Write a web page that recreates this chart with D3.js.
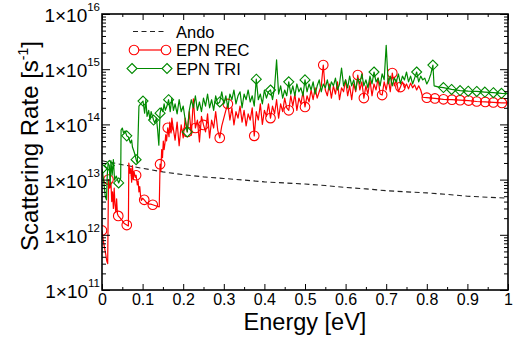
<!DOCTYPE html>
<html><head><meta charset="utf-8">
<script src="https://cdn.jsdelivr.net/npm/d3@7"></script>
<style>
body{margin:0;background:#fff}
svg{display:block}
text{font-family:"Liberation Sans",Arial,Helvetica,sans-serif;fill:#000}
</style>
</head><body>
<svg id="c" width="513" height="341"></svg>
<script>
// ---------------- data ----------------
const xTickValues = [0,0.1,0.2,0.3,0.4,0.5,0.6,0.7,0.8,0.9,1];
const xTickLabels = ["0","0.1","0.2","0.3","0.4","0.5","0.6","0.7","0.8","0.9","1"];
const yTickExps = [11,12,13,14,15,16];

const seriesNames = ["Ando","EPN REC","EPN TRI"];

const andoE = [0,0.05,0.1,0.15,0.2,0.25,0.3,0.35,0.4,0.45,0.5,0.55,0.6,0.65,0.7,0.75,0.8,0.85,0.9,0.95,1.0];
const andoRate = [2.2e13,1.86e13,1.6e13,1.38e13,1.23e13,1.12e13,1.05e13,9.8e12,9.1e12,8.7e12,8.3e12,7.8e12,7.2e12,6.8e12,6.3e12,6.0e12,5.75e12,5.4e12,5.0e12,4.8e12,4.6e12];

const recE = [0,0.003,0.006,0.009,0.012,0.014,0.016,0.019,0.022,0.024,0.026,0.028,0.03,0.032,0.034,0.036,0.038,0.04,0.045,0.05,0.055,0.061,0.065,0.066,0.069,0.071,0.073,0.075,0.077,0.079,0.082,0.084,0.087,0.089,0.091,0.093,0.095,0.097,0.1,0.104,0.11,0.115,0.12,0.125,0.13,0.135,0.141,0.143,0.145,0.147,0.149,0.151,0.153,0.155,0.157,0.159,0.162,0.165,0.167,0.17,0.172,0.175,
0.18,0.185,0.19,0.195,0.2,0.205,0.21,0.215,0.22,0.225,
0.23,0.235,0.24,0.245,0.25,0.255,0.26,0.265,0.27,0.275,
0.28,0.285,0.29,0.295,0.3,0.305,0.31,0.315,0.32,0.325,
0.33,0.335,0.34,0.345,0.35,0.355,0.36,0.365,0.37,0.375,
0.38,0.385,0.39,0.395,0.4,0.405,0.41,0.415,0.42,0.425,
0.43,0.435,0.44,0.445,0.45,0.455,0.46,0.465,0.47,0.475,
0.48,0.485,0.49,0.495,0.5,0.505,0.51,0.515,0.52,0.525,
0.53,0.535,0.54,0.545,0.55,0.555,0.56,0.565,0.57,0.575,
0.58,0.585,0.59,0.595,0.6,0.605,0.61,0.615,0.62,0.625,
0.63,0.635,0.64,0.645,0.65,0.655,0.66,0.665,0.67,0.675,
0.68,0.685,0.69,0.695,0.7,0.705,0.71,0.715,0.72,0.725,
0.73,0.735,0.74,0.745,0.75,0.755,0.76,0.765,0.77,0.775,
0.78,0.785,0.79,
0.8,0.82,0.841,0.862,0.882,0.903,0.923,0.944,0.964,0.985,1.0];
const recRate = [1.2e12,8e11,6e11,4.5e11,3.3e11,3.0e11,1.0e13,7e12,9e12,4e12,6e12,3e12,7e12,3.5e12,2.6e12,4.5e12,2.4e12,2.2e12,2.0e12,1.8e12,1.6e12,1.5e12,1.45e12,2.0e13,1.3e13,1.6e13,9e12,1.8e13,1.0e13,1.4e13,1.1e13,1.2e13,8e12,9.5e12,6e12,7.5e12,5e12,4.2e12,4.6e12,4.3e12,3.8e12,3.6e12,3.6e12,3.5e12,3.4e12,3.3e12,3.2e12,1.9e13,1.4e13,3.5e13,2.5e13,5e13,3.5e13,4.5e13,6.5e13,5e13,8.7e13,6e13,1.1e14,7e13,1.3e14,9e13,
5.2e13,1.1e14,4.1e13,9.8e13,5.7e13,1.3e14,7.3e13,1.7e14,6.4e13,2.9e14,
8.6e13,1.2e14,4.8e13,1.4e14,9.8e13,7.3e13,1.55e14,5.7e13,1.2e14,8.6e13,
1.7e14,7.9e13,5.7e13,9.4e13,1.3e14,1.8e14,2.35e14,1.2e14,2.0e14,9.8e13,
1.7e14,1.3e14,2.15e14,1.1e14,1.8e14,9.4e13,1.55e14,1.2e14,2.0e14,6.2e13,
1.7e14,1.2e14,2.35e14,1.0e14,1.8e14,1.4e14,2.35e14,1.3e14,2.15e14,1.55e14,
2.8e14,1.3e14,2.35e14,1.7e14,3.0e14,2.0e14,1.8e14,3.3e14,2.15e14,3.55e14,
1.8e14,3.0e14,2.35e14,3.9e14,2.07e14,3.3e14,2.55e14,4.2e14,2.8e14,4.6e14,
3.0e14,3.9e14,5.0e14,1.19e15,4.2e14,3.3e14,5.4e14,3.0e14,5.0e14,3.55e14,
5.9e14,2.8e14,4.6e14,3.9e14,6.4e14,3.3e14,5.0e14,2.8e14,5.4e14,3.9e14,
7.85e14,4.2e14,5.9e14,3.0e14,5.0e14,3.55e14,6.4e14,3.3e14,5.4e14,4.2e14,
6.9e14,3.55e14,3.4e14,5.9e14,4.2e14,6.9e14,3.9e14,8.5e14,5.0e14,6.4e14,
3.9e14,4.75e14,5.9e14,4.6e14,5.4e14,4.4e14,5.6e14,4.6e14,5.2e14,4.2e14,
5.0e14,4.2e14,3.1e14,
3.05e14,2.95e14,2.85e14,2.8e14,2.75e14,2.7e14,2.6e14,2.55e14,2.5e14,2.45e14,2.45e14];
const recMarkE = [0,0.016,0.04,0.061,0.084,0.104,0.125,0.143,0.162,0.21,0.23,0.25,0.29,0.31,0.375,0.415,0.46,0.5,0.545,0.63,0.645,0.69,0.715,0.735,0.8,0.82,0.841,0.862,0.882,0.903,0.923,0.944,0.964,0.985];

const triE = [0,0.004,0.008,0.011,0.013,0.015,0.018,0.02,0.022,0.025,0.028,0.031,0.035,0.041,0.046,0.047,0.05,0.053,0.057,0.061,0.065,0.07,0.073,0.075,0.079,0.082,0.084,0.087,0.091,0.095,0.101,0.105,0.108,0.111,0.115,0.118,0.121,0.127,0.13,0.134,0.137,0.14,0.143,0.146,0.15,0.153,0.156,0.16,0.164,0.168,0.172,0.176,
0.18,0.185,0.19,0.195,0.2,0.205,0.21,0.215,0.22,0.225,
0.23,0.235,0.24,0.245,0.25,0.255,0.26,0.265,0.27,0.275,
0.28,0.285,0.29,0.295,0.3,0.305,0.31,0.315,0.32,0.325,
0.33,0.335,0.34,0.345,0.35,0.355,0.36,0.365,0.37,0.375,
0.38,0.385,0.39,0.395,0.4,0.405,0.41,0.415,0.42,0.425,
0.43,0.435,0.44,0.445,0.45,0.455,0.46,0.465,0.47,0.475,
0.48,0.485,0.49,0.495,0.5,0.505,0.51,0.515,0.52,0.525,
0.53,0.535,0.54,0.545,0.55,0.555,0.56,0.565,0.57,0.575,
0.58,0.585,0.59,0.595,0.6,0.605,0.61,0.615,0.62,0.625,
0.63,0.635,0.64,0.645,0.65,0.655,0.66,0.665,0.67,0.675,
0.68,0.685,0.69,0.695,0.7,0.705,0.71,0.715,0.72,0.725,
0.73,0.735,0.74,0.745,0.75,0.755,0.76,0.765,0.77,0.775,
0.78,0.785,0.79,0.795,0.8,0.805,0.81,0.815,
0.818,0.83,0.841,0.861,0.882,0.902,0.923,0.943,0.964,0.984,1.0];
const triRate = [1.56e13,9.8e12,5.0e12,4.3e12,1.2e13,2.0e13,1.8e13,8.0e12,2.2e13,1.2e13,2.3e13,9.8e12,1.16e13,8.7e12,1.07e13,7.9e13,8.6e13,7.0e13,7.6e13,6.2e13,5.9e13,4.6e13,5.2e13,3.9e13,3.2e13,2.7e13,2.3e13,2.0e13,2.15e14,2.35e14,2.65e14,1.6e14,2.8e14,1.4e14,1.8e14,1.2e14,1.7e14,1.2e14,1.06e14,1.3e14,7.9e13,4.2e13,1.6e14,2.0e14,1.7e14,2.35e14,1.8e14,2.15e14,2.8e14,1.7e14,3.0e14,1.8e14,
2.35e14,1.55e14,2.8e14,1.7e14,2.15e14,1.2e14,7.3e13,1.8e14,2.8e14,2.0e14,
3.3e14,1.8e14,2.55e14,1.7e14,3.0e14,2.15e14,3.55e14,2.0e14,2.8e14,1.8e14,
3.3e14,2.35e14,2.55e14,3.9e14,2.35e14,3.3e14,2.0e14,3.55e14,2.8e14,4.2e14,
2.35e14,3.3e14,3.9e14,2.0e14,3.55e14,2.8e14,4.2e14,2.55e14,3.3e14,2.15e14,
6.6e14,2.8e14,3.55e14,2.35e14,4.2e14,3.0e14,3.9e14,4.2e14,2.8e14,4.6e14,
1.47e15,3.55e14,5.0e14,3.0e14,4.2e14,3.3e14,5.9e14,3.55e14,5.0e14,3.3e14,
5.4e14,3.9e14,4.6e14,3.3e14,6.4e14,3.9e14,5.4e14,4.2e14,5.9e14,3.55e14,
5.0e14,6.4e14,3.9e14,5.4e14,4.6e14,6.4e14,4.2e14,5.9e14,5.0e14,6.9e14,
4.2e14,5.4e14,1.05e15,5.0e14,6.4e14,4.6e14,7.5e14,5.0e14,6.4e14,4.2e14,
6.9e14,5.4e14,8.2e14,5.0e14,6.4e14,4.6e14,7.5e14,5.4e14,8.9e14,5.9e14,
6.9e14,5.0e14,8.2e14,6.4e14,2.7e15,5.4e14,7.5e14,5.0e14,6.9e14,5.9e14,
8.2e14,5.4e14,7.5e14,6.4e14,8.9e14,5.9e14,7.5e14,5.4e14,6.9e14,8.9e14,
5.9e14,7.5e14,6.4e14,6.9e14,5.4e14,6.4e14,8.2e14,1.19e15,
5.0e14,4.75e14,4.65e14,4.3e14,4.1e14,4.0e14,3.95e14,3.85e14,3.75e14,3.65e14,3.6e14];
const triMarkE = [0,0.018,0.041,0.061,0.084,0.101,0.127,0.143,0.164,0.21,0.29,0.38,0.415,0.46,0.5,0.67,0.775,0.815,0.841,0.861,0.882,0.902,0.923,0.943,0.964,0.984];

// ---------------- chart ----------------
const svg = d3.select("#c");
const L = 102, R = 508, T = 14, B = 290;
const x = d3.scaleLinear().domain([0,1]).range([L,R]);
const y = d3.scaleLog().domain([1e11,1e16]).range([B,T]);

svg.append("defs").append("clipPath").attr("id","clip")
  .append("rect").attr("x",L).attr("y",T).attr("width",R-L).attr("height",B-T);

const line = d3.line().x(d=>x(d[0])).y(d=>y(d[1]));
const plot = svg.append("g").attr("clip-path","url(#clip)");

function nearestIdx(arr, v){
  let bi = 0, bd = Infinity;
  arr.forEach((a,i)=>{ const dd = Math.abs(a-v); if(dd<bd){bd=dd;bi=i;} });
  return bi;
}
const diamond = r => `M0,${-r}L${r},0L0,${r}L${-r},0Z`;

// Ando
plot.append("path").datum(d3.zip(andoE, andoRate)).attr("d", line)
  .attr("fill","none").attr("stroke","#222").attr("stroke-width",1.1)
  .attr("stroke-dasharray","5,3.5");

// EPN REC
const recCol = "#ff0000", triCol = "#008a00";
plot.append("path").datum(d3.zip(recE, recRate)).attr("d", line)
  .attr("fill","none").attr("stroke",recCol).attr("stroke-width",1.2).attr("stroke-linejoin","round");
plot.selectAll("circle.rec").data(recMarkE.map(e=>nearestIdx(recE,e))).join("circle")
  .attr("class","rec").attr("cx",i=>x(recE[i])).attr("cy",i=>y(recRate[i])).attr("r",4.8)
  .attr("fill","none").attr("stroke",recCol).attr("stroke-width",1.1);

// EPN TRI
plot.append("path").datum(d3.zip(triE, triRate)).attr("d", line)
  .attr("fill","none").attr("stroke",triCol).attr("stroke-width",1.2).attr("stroke-linejoin","round");
plot.selectAll("path.tri").data(triMarkE.map(e=>nearestIdx(triE,e))).join("path")
  .attr("class","tri").attr("d",diamond(5))
  .attr("transform",i=>`translate(${x(triE[i])},${y(triRate[i])})`)
  .attr("fill","none").attr("stroke",triCol).attr("stroke-width",1.1);

// axes ticks (inward)
const xMinor = xTickValues.slice(0,-1).map(v=>v+0.05);
const yMinor = y.ticks().filter(v=>Math.abs(Math.log10(v)-Math.round(Math.log10(v)))>1e-6);
const decades = yTickExps.map(e=>Math.pow(10,e));

function styleAxis(g){ g.select(".domain").remove(); g.selectAll(".tick line").attr("stroke","#000").attr("stroke-width",1); }

svg.append("g").attr("transform",`translate(0,${B})`)
  .call(d3.axisBottom(x).tickValues(xTickValues).tickSize(-6).tickPadding(4).tickFormat((d,i)=>xTickLabels[i]))
  .call(styleAxis)
  .call(g=>g.selectAll("text").attr("font-size",16).attr("font-family","Liberation Sans, Arial, sans-serif"));
svg.append("g").attr("transform",`translate(0,${B})`)
  .call(d3.axisBottom(x).tickValues(xMinor).tickSize(-3).tickFormat("")).call(styleAxis);
svg.append("g").attr("transform",`translate(0,${T})`)
  .call(d3.axisTop(x).tickValues(xTickValues).tickSize(-6).tickFormat("")).call(styleAxis);
svg.append("g").attr("transform",`translate(0,${T})`)
  .call(d3.axisTop(x).tickValues(xMinor).tickSize(-3).tickFormat("")).call(styleAxis);

svg.append("g").attr("transform",`translate(${L},0)`)
  .call(d3.axisLeft(y).tickValues(decades).tickSize(-8).tickFormat("")).call(styleAxis);
svg.append("g").attr("transform",`translate(${L},0)`)
  .call(d3.axisLeft(y).tickValues(yMinor).tickSize(-4).tickFormat("")).call(styleAxis);
svg.append("g").attr("transform",`translate(${R},0)`)
  .call(d3.axisRight(y).tickValues(decades).tickSize(-8).tickFormat("")).call(styleAxis);
svg.append("g").attr("transform",`translate(${R},0)`)
  .call(d3.axisRight(y).tickValues(yMinor).tickSize(-4).tickFormat("")).call(styleAxis);

// frame
svg.append("rect").attr("x",L).attr("y",T).attr("width",R-L).attr("height",B-T)
  .attr("fill","none").attr("stroke","#000").attr("stroke-width",1.6);

// y tick labels 1x10^n
yTickExps.forEach(e=>{
  const t = svg.append("text").attr("x",100).attr("y",y(Math.pow(10,e))+8).attr("text-anchor","end");
  t.append("tspan").attr("font-size",19).text("1\u00d710");
  t.append("tspan").attr("font-size",11.5).attr("dy",-11).text(String(e));
});

// axis titles
svg.append("text").attr("x",305).attr("y",330).attr("text-anchor","middle").attr("font-size",23.5).text("Energy [eV]");
const yt = svg.append("text").attr("transform","translate(38,146) rotate(-90)").attr("text-anchor","middle").attr("font-size",24);
yt.append("tspan").text("Scattering Rate [s");
yt.append("tspan").attr("font-size",14).attr("dy",-10).text("-1");
yt.append("tspan").attr("dy",10).text("]");

// legend
const lg = svg.append("g");
const legY = [31.5, 50, 68.5];
const legFont = 16.5;
lg.append("line").attr("x1",133).attr("x2",167).attr("y1",legY[0]).attr("y2",legY[0])
  .attr("stroke","#222").attr("stroke-width",1.1).attr("stroke-dasharray","5,3.5");
lg.append("text").attr("x",176).attr("y",legY[0]+6).attr("font-size",legFont).text(seriesNames[0]);
lg.append("line").attr("x1",134).attr("x2",166).attr("y1",legY[1]).attr("y2",legY[1])
  .attr("stroke",recCol).attr("stroke-width",1.2);
[134,166].forEach(cx=>lg.append("circle").attr("cx",cx).attr("cy",legY[1]).attr("r",4.8)
  .attr("fill","#fff").attr("stroke",recCol).attr("stroke-width",1.1));
lg.append("text").attr("x",176).attr("y",legY[1]+6).attr("font-size",legFont).text(seriesNames[1]);
lg.append("line").attr("x1",132).attr("x2",167).attr("y1",legY[2]).attr("y2",legY[2])
  .attr("stroke",triCol).attr("stroke-width",1.2);
[132,167].forEach(cx=>lg.append("path").attr("d",diamond(5)).attr("transform",`translate(${cx},${legY[2]})`)
  .attr("fill","#fff").attr("stroke",triCol).attr("stroke-width",1.1));
lg.append("text").attr("x",176).attr("y",legY[2]+6).attr("font-size",legFont).text(seriesNames[2]);
</script>
</body></html>
